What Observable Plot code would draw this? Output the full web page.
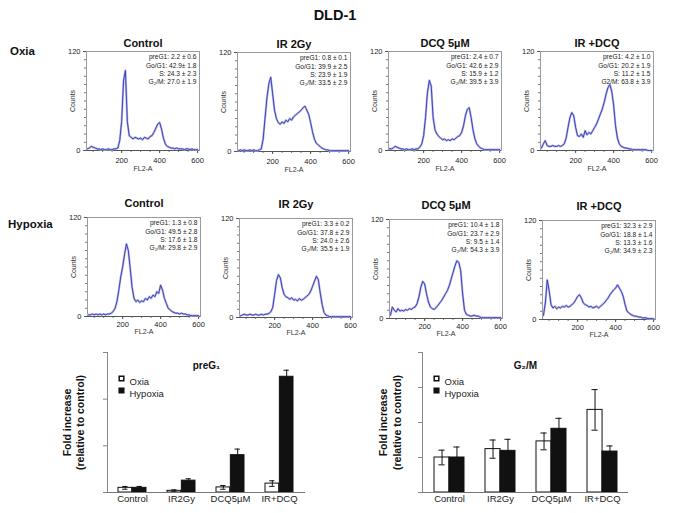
<!DOCTYPE html>
<html><head><meta charset="utf-8">
<script src="https://cdn.jsdelivr.net/npm/d3@7"></script>
<script src="https://cdn.jsdelivr.net/npm/@observablehq/plot@0.6"></script>
<style>
body{margin:0;background:#fff;font-family:"Liberation Sans",Arial,sans-serif;}
#root{position:relative;width:685px;height:513px;overflow:hidden;background:#fff;}
.lbl{position:absolute;font-weight:bold;color:#111;white-space:nowrap;line-height:1;}
.p{position:absolute;}
</style></head><body><div id="root"></div>
<script>
// ---- histogram bins (FL2-A) ----
const fl2 = [20,30,40,50,60,70,80,90,100,110,120,130,140,150,160,170,180,190,200,210,220,230,240,250,260,270,280,290,300,310,320,330,340,350,360,370,380,390,400,410,420,430,440,450,460,470,480,490,500,510,520,530,540,550,560,570,580,590,600];

// ---- counts ----
const oxiaControl = [2,3,5,4,3,2,2,1,2,1, 1,2,1,1,2,2,3,12,35,85, 97,35,18,16,14,16,15,14,15,13, 16,15,14,17,18,22,27,32,34,26, 15,8,5,4,3,3,2,3,2,2, 2,1,2,2,1,2,1,1,1];
const oxiaIR = [1,2,1,2,1,1,2,1,2,1, 1,2,3,15,40,65,82,90,70,50, 40,35,33,36,34,38,36,40,38,42, 44,46,48,50,53,55,50,45,35,24, 15,10,8,6,4,3,2,2,1,1, 1,1,1,1,1,1,1,1,1];
const oxiaDCQ = [2,2,3,5,4,3,2,2,1,2, 1,1,2,1,2,2,4,8,18,40, 70,85,78,40,25,20,17,15,13,14, 12,13,12,14,13,15,17,18,22,30, 42,50,52,40,25,14,8,5,3,2, 1,1,1,1,1,1,1,1,1];
const oxiaIRDCQ = [3,8,12,6,5,5,6,5,5,6, 5,6,8,15,28,40,46,42,28,18, 17,20,16,24,19,22,20,24,28,32, 38,44,50,58,68,76,80,72,55,30, 15,8,5,4,3,3,2,2,1,1, 1,1,1,1,1,1,0,0,0];
const hypControl = [2,2,3,2,3,2,3,2,3,2, 3,3,4,6,10,18,32,48,60,75, 88,80,58,35,22,18,20,17,19,18, 22,20,24,22,26,24,30,28,38,32, 22,16,10,8,6,5,4,4,3,4, 3,3,2,2,1,1,1,1,1];
const hypIR = [2,3,4,3,3,4,3,3,4,3, 3,4,3,4,4,5,7,12,28,45, 52,48,36,28,25,24,22,24,21,22, 20,23,21,22,24,26,28,32,38,44, 50,46,30,16,6,3,2,1,1,1, 1,1,1,1,1,1,1,1,1];
const hypDCQ = [4,14,10,8,12,9,10,9,11,10, 12,11,13,14,18,26,38,45,42,30, 20,14,12,11,13,16,19,22,26,30, 34,40,48,56,64,70,68,58,30,10, 5,4,3,3,4,3,3,2,1,1, 1,1,1,1,1,1,1,1,1];
const hypIRDCQ = [5,20,48,35,18,14,16,13,15,14, 16,15,17,15,16,18,20,24,28,30, 26,20,18,17,15,16,14,15,16,14, 16,18,20,23,26,30,33,36,38,42, 38,34,28,18,10,8,6,5,4,4, 3,3,2,2,2,1,1,1,1];

// ---- stats text ----
const statsOxiaControl = ["preG1: 2.2 ± 0.6","Go/G1: 42.9± 1.8","S: 24.3 ± 2.3","G₂/M: 27.0 ± 1.9"];
const statsOxiaIR = ["preG1: 0.8 ± 0.1","Go/G1: 39.9 ± 2.5","S: 23.9 ± 1.9","G₂/M: 33.5 ± 2.9"];
const statsOxiaDCQ = ["preG1: 2.4 ± 0.7","Go/G1: 42.6 ± 2.9","S: 15.9 ± 1.2","G₂/M: 39.5 ± 3.9"];
const statsOxiaIRDCQ = ["preG1: 4.2 ± 1.0","Go/G1: 20.2 ± 1.9","S: 11.2 ± 1.5","G2/M: 63.8 ± 3.9"];
const statsHypControl = ["preG1: 1.3 ± 0.8","Go/G1: 49.5 ± 2.8","S: 17.6 ± 1.8","G₂/M: 29.8 ± 2.9"];
const statsHypIR = ["preG1: 3.3 ± 0.2","Go/G1: 37.8 ± 2.9","S: 24.0 ± 2.6","G₂/M: 35.5 ± 1.9"];
const statsHypDCQ = ["preG1: 10.4 ± 1.8","Go/G1: 23.7 ± 2.9","S: 9.5 ± 1.4","G₂/M: 54.3 ± 3.9"];
const statsHypIRDCQ = ["preG1: 32.3 ± 2.9","Go/G1: 18.8 ± 1.4","S: 13.3 ± 1.6","G₂/M: 34.9 ± 2.3"];

const histTitles = ["Control","IR 2Gy","DCQ 5µM","IR +DCQ"];
const histYTicks = [0,120];
const histYMinor = [0,10,20,30,40,50,60,70,80,90,100,110,120];
const histXTicks = [200,400,600];
const histXMinor = [50,100,150,200,250,300,350,400,450,500,550,600];

// ---- bar charts ----
const categories = ["Control","IR2Gy","DCQ5µM","IR+DCQ"];
const preG1Oxia = [1.0,0.36,1.09,1.91];
const preG1OxiaErr = [0.3,0.2,0.4,0.6];
const preG1Hyp = [1.0,2.54,8.0,24.8];
const preG1HypErr = [0.3,0.4,1.3,1.4];
const g2mOxia = [1.0,1.24,1.46,2.36];
const g2mOxiaErr = [0.21,0.26,0.24,0.58];
const g2mHyp = [1.0,1.19,1.82,1.17];
const g2mHypErr = [0.3,0.33,0.3,0.16];
const preG1Ticks = [0,10,20,30];
const g2mTicks = [0,1,2,3,4];

const FONT = '"Liberation Sans", Arial, sans-serif';
const root = document.getElementById("root");

function label(text, x, y, size, anchor = "left") {
  const d = document.createElement("div");
  d.className = "lbl";
  d.textContent = text;
  d.style.fontSize = size + "px";
  d.style.left = x + "px";
  d.style.top = y + "px";
  d.style.transform = anchor === "center" ? "translate(-50%,-50%)" : "translate(0,-50%)";
  root.appendChild(d);
}

function place(svg, left, top) {
  svg.classList.add("p");
  svg.style.left = left + "px";
  svg.style.top = top + "px";
  root.appendChild(svg);
}

function histPanel(counts, title, stats, fx, fy, titleDy, tickPad, axisLabDy) {
  const W = 113, H = 99, mL = 34, mR = 6, mT = 26, mB = 26;
  const data = fl2.map((x, i) => ({x, c: counts[i]}));
  const svg = Plot.plot({
    width: W + mL + mR, height: H + mT + mB,
    marginLeft: mL, marginRight: mR, marginTop: mT, marginBottom: mB,
    style: {fontFamily: FONT, background: "transparent", color: "#222"},
    x: {domain: [15, 610]},
    y: {domain: [0, 120]},
    marks: [
      Plot.frame({stroke: "#9a9a9a"}),
      Plot.axisY({ticks: histYMinor, tickSize: 2, tickFormat: () => "", label: null, stroke: "#777"}),
      Plot.axisY({ticks: histYTicks, tickSize: 3, tickPadding: 3, fontSize: 7.5, label: null, stroke: "#555"}),
      Plot.axisX({ticks: histXMinor, tickSize: 2, tickFormat: () => "", label: null, stroke: "#777"}),
      Plot.axisX({ticks: histXTicks, tickSize: 3, tickPadding: tickPad, fontSize: 7.5, label: null, stroke: "#555"}),
      Plot.ruleY([0], {stroke: "#555"}),
      Plot.line(data, {x: "x", y: "c", stroke: "#b4b8ea", strokeWidth: 2.2}),
      Plot.line(data, {x: "x", y: "c", stroke: "#3236b0", strokeWidth: 0.9}),
      Plot.text([stats.join("\n")], {frameAnchor: "top-right", textAnchor: "end", lineAnchor: "top", dx: -3, dy: 2, fontSize: 6.6, lineHeight: 1.25, fill: "#222"}),
      Plot.text(["Counts"], {frameAnchor: "left", textAnchor: "middle", rotate: -90, dx: -14, fontSize: 7, fill: "#333"}),
      Plot.text(["FL2-A"], {frameAnchor: "bottom", dy: axisLabDy, fontSize: 7, fill: "#333"}),
      Plot.text([title], {frameAnchor: "top", dy: -titleDy, fontSize: 11, fontWeight: "bold", fill: "#111"})
    ]
  });
  place(svg, fx - mL, fy - mT);
}

function barChart(oxia, oxiaErr, hyp, hypErr, yMax, yTicks, title, fx, fy, fw, lab1dx, lab2dx) {
  const mL = 60, mR = 10, mT = 4, mB = 18, FH = 140;
  const pIn = 0.42, pOut = 0.21;
  const step = fw / (categories.length - pIn + 2 * pOut);
  const bw = step * (1 - pIn);
  const ox = categories.map((c, i) => ({cat: c, v: oxia[i], e: oxiaErr[i]}));
  const hy = categories.map((c, i) => ({cat: c, v: hyp[i], e: hypErr[i]}));
  const cap = 6;
  const svg = Plot.plot({
    width: fw + mL + mR, height: FH + mT + mB,
    marginLeft: mL, marginRight: mR, marginTop: mT, marginBottom: mB,
    style: {fontFamily: FONT, background: "transparent", color: "#222"},
    x: {domain: categories, paddingInner: pIn, paddingOuter: pOut},
    y: {domain: [0, yMax]},
    marks: [
      Plot.frame({anchor: "left", stroke: "#888"}),
      Plot.axisY({ticks: yTicks, tickSize: 4, tickFormat: () => "", label: null, stroke: "#888"}),
      Plot.axisX({tickSize: 0, tickPadding: 3, fontSize: 9.5, label: null, fill: "#222"}),
      Plot.barY(ox, {x: "cat", y: "v", fill: "white", stroke: "#111", strokeWidth: 1, insetRight: bw / 2}),
      Plot.barY(hy, {x: "cat", y: "v", fill: "#111", stroke: "#111", strokeWidth: 1, insetLeft: bw / 2}),
      Plot.ruleX(ox, {x: "cat", y1: d => d.v - d.e, y2: d => d.v + d.e, dx: -bw / 4, stroke: "#111"}),
      Plot.ruleX(hy, {x: "cat", y1: d => d.v - d.e, y2: d => d.v + d.e, dx: bw / 4, stroke: "#111"}),
      Plot.tickY(ox, {x: "cat", y: d => d.v + d.e, insetLeft: bw / 4 - cap / 2, insetRight: 3 * bw / 4 - cap / 2, stroke: "#111"}),
      Plot.tickY(ox, {x: "cat", y: d => d.v - d.e, insetLeft: bw / 4 - cap / 2, insetRight: 3 * bw / 4 - cap / 2, stroke: "#111"}),
      Plot.tickY(hy, {x: "cat", y: d => d.v + d.e, insetLeft: 3 * bw / 4 - cap / 2, insetRight: bw / 4 - cap / 2, stroke: "#111"}),
      Plot.ruleY([0], {stroke: "#777"}),
      Plot.text([title], {frameAnchor: "top", dy: 9, fontSize: 10, fontWeight: "bold", fill: "#111"}),
      Plot.dot(["Oxia"], {frameAnchor: "top-left", dx: 14, dy: 26, symbol: "square", r: 2.6, fill: "white", stroke: "#111"}),
      Plot.dot(["Hypoxia"], {frameAnchor: "top-left", dx: 14, dy: 38, symbol: "square", r: 2.6, fill: "#111", stroke: "#111"}),
      Plot.text(["Oxia"], {frameAnchor: "top-left", dx: 22, dy: 26, textAnchor: "start", fontSize: 9.5, fill: "#222"}),
      Plot.text(["Hypoxia"], {frameAnchor: "top-left", dx: 22, dy: 38, textAnchor: "start", fontSize: 9.5, fill: "#222"}),
      Plot.text(["Fold increase"], {frameAnchor: "left", textAnchor: "middle", rotate: -90, dx: lab1dx, fontSize: 10.5, fontWeight: "bold", fill: "#111"}),
      Plot.text(["(relative to control)"], {frameAnchor: "left", textAnchor: "middle", rotate: -90, dx: lab2dx, fontSize: 10.5, fontWeight: "bold", fill: "#111"})
    ]
  });
  place(svg, fx - mL, fy - mT);
}

label("DLD-1", 335, 15, 14.5, "center");
label("Oxia", 10, 52, 11.5);
label("Hypoxia", 8, 225, 11.5);

histPanel(oxiaControl, histTitles[0], statsOxiaControl, 86, 51, 12, 4, 20);
histPanel(oxiaIR, histTitles[1], statsOxiaIR, 237, 52, 12, 4, 20);
histPanel(oxiaDCQ, histTitles[2], statsOxiaDCQ, 388, 51, 12, 4, 20);
histPanel(oxiaIRDCQ, histTitles[3], statsOxiaIRDCQ, 540, 51, 12, 4, 20);
histPanel(hypControl, histTitles[0], statsHypControl, 87, 217, 18, 2, 17);
histPanel(hypIR, histTitles[1], statsHypIR, 239, 218, 18, 2, 17);
histPanel(hypDCQ, histTitles[2], statsHypDCQ, 389, 219, 18, 2, 17);
histPanel(hypIRDCQ, histTitles[3], statsHypIRDCQ, 542, 220, 18, 2, 17);

barChart(preG1Oxia, preG1OxiaErr, preG1Hyp, preG1HypErr, 30, preG1Ticks, "preG₁", 107, 352, 198, -40, -27);
barChart(g2mOxia, g2mOxiaErr, g2mHyp, g2mHypErr, 4, g2mTicks, "G₂/M", 422, 352, 206, -39, -25);
</script></body></html>
